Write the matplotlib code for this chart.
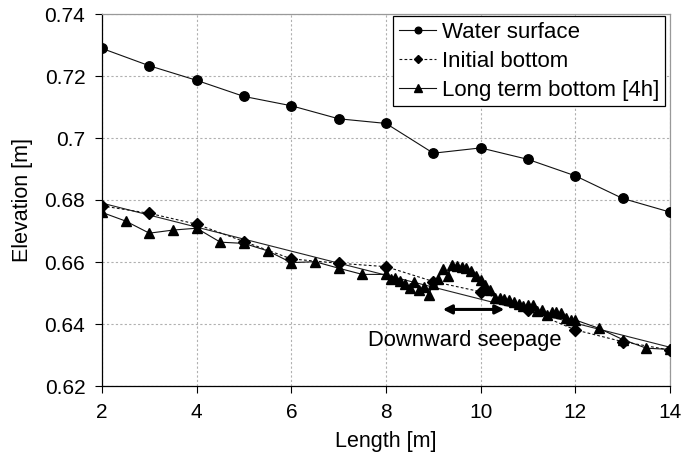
import matplotlib
matplotlib.use("Agg")
import matplotlib.pyplot as plt

plt.rcParams['font.family'] = ['Liberation Sans', 'DejaVu Sans']

# Water surface
ws_x = [2, 3, 4, 5, 6, 7, 8, 9, 10, 11, 12, 13, 14]
ws_y = [0.7289, 0.7233, 0.7186, 0.7134, 0.7104, 0.7062, 0.7047, 0.6951, 0.6968,
        0.6931, 0.6878, 0.6805, 0.6761]

# Initial bottom
ib_x = [2, 3, 4, 5, 6, 7, 8, 9, 10, 11, 12, 13, 14]
ib_y = [0.6781, 0.6757, 0.6722, 0.6666, 0.6610, 0.6596, 0.6585, 0.6537, 0.6504,
        0.6445, 0.6381, 0.6343, 0.6316]

# Long term bottom [4h]
lt_x = [2, 2.5, 3, 3.5, 4, 4.5, 5, 5.5, 6, 6.5, 7, 7.5,
        8.0, 8.1, 8.2, 8.3, 8.4, 8.5, 8.6, 8.7, 8.8, 8.9,
        9.0, 9.1, 9.2, 9.3, 9.4, 9.5, 9.6, 9.7, 9.8, 9.9,
        10.0, 10.1, 10.2, 10.3, 10.4, 10.5, 10.6, 10.7, 10.8, 10.9,
        11.0, 11.1, 11.2, 11.3, 11.4, 11.5, 11.6, 11.7, 11.8, 11.9,
        12.0, 12.5, 13, 13.5, 14]
lt_y = [0.6760, 0.6732, 0.6693, 0.6703, 0.6709, 0.6664, 0.6660, 0.6636, 0.6598, 0.6601, 0.6580, 0.6560,
        0.6560, 0.6545, 0.6548, 0.6538, 0.6528, 0.6515, 0.6535, 0.6510, 0.6520, 0.6495,
        0.6530, 0.6545, 0.6578, 0.6555, 0.6590, 0.6586, 0.6585, 0.6580, 0.6570, 0.6555,
        0.6542, 0.6525, 0.6510, 0.6485, 0.6483, 0.6480, 0.6476, 0.6472, 0.6463, 0.6457,
        0.6460, 0.6462, 0.6442, 0.6446, 0.6428, 0.6440, 0.6440, 0.6434, 0.6420, 0.6413,
        0.6413, 0.6386, 0.6350, 0.6322, 0.6318]

# Linear trend line
tr_x = [2, 14]
tr_y = [0.6790, 0.6325]

x_ticks = [2, 4, 6, 8, 10, 12, 14]
y_ticks = [0.62, 0.64, 0.66, 0.68, 0.70, 0.72, 0.74]
y_tick_labels = ["0.62", "0.64", "0.66", "0.68", "0.7", "0.72", "0.74"]

arrow_x = [9.2, 10.5]
arrow_y = 0.6447
note_text = "Downward seepage"
note_pos = (9.67, 0.6346)

fig = plt.figure(figsize=(6.88, 4.63), dpi=100)
ax = fig.add_axes([102/688, 1 - 386/463, (670-102)/688, (386-14)/463])

ax.plot(tr_x, tr_y, color='#222222', lw=0.8, zorder=2)
ax.plot(ws_x, ws_y, color='#111111', lw=0.8, marker='o', ms=6.8,
        mfc='black', mec='black', label='Water surface', zorder=4)
ax.plot(ib_x, ib_y, color='#111111', lw=0.8, ls=(0, (2.5, 2)), marker='D', ms=6,
        mfc='black', mec='black', label='Initial bottom', zorder=3)
ax.plot(lt_x, lt_y, color='#111111', lw=0.8, marker='^', ms=7.5,
        mfc='black', mec='black', label='Long term bottom [4h]', zorder=4)

ax.annotate('', xy=(arrow_x[0], arrow_y), xytext=(arrow_x[1], arrow_y),
            arrowprops=dict(arrowstyle='<|-|>', color='black', lw=2.2,
                            mutation_scale=13, shrinkA=0, shrinkB=0))
ax.text(note_pos[0], note_pos[1], note_text, ha='center', va='center', fontsize=15.8)

ax.set_xlim(2, 14)
ax.set_ylim(0.62, 0.74)
ax.set_xticks(x_ticks)
ax.set_yticks(y_ticks)
ax.set_yticklabels(y_tick_labels)
ax.tick_params(axis='both', direction='out', length=5, width=0.8, labelsize=15,
               colors='black', pad=7)
ax.grid(True, color='#b0b0b0', ls=(0, (2, 2)), lw=0.8)
ax.set_axisbelow(True)

for s in ['left', 'bottom']:
    ax.spines[s].set_color('black')
    ax.spines[s].set_linewidth(0.9)
for s in ['top', 'right']:
    ax.spines[s].set_color('#999999')
    ax.spines[s].set_linewidth(0.9)

ax.set_xlabel('Length [m]', fontsize=15.5, labelpad=7)
ax.set_ylabel('Elevation [m]', fontsize=15.5, labelpad=8)

leg = ax.legend(loc='upper right', bbox_to_anchor=(0.995, 1.0), fontsize=16,
                frameon=True, fancybox=False, shadow=False, borderaxespad=0.1,
                handlelength=1.7, handletextpad=0.25, labelspacing=0.36,
                borderpad=0.25, markerscale=0.7)
leg.get_frame().set_edgecolor('black')
leg.get_frame().set_linewidth(0.9)
leg.get_frame().set_alpha(1)

fig.savefig('out.png', dpi=100)
